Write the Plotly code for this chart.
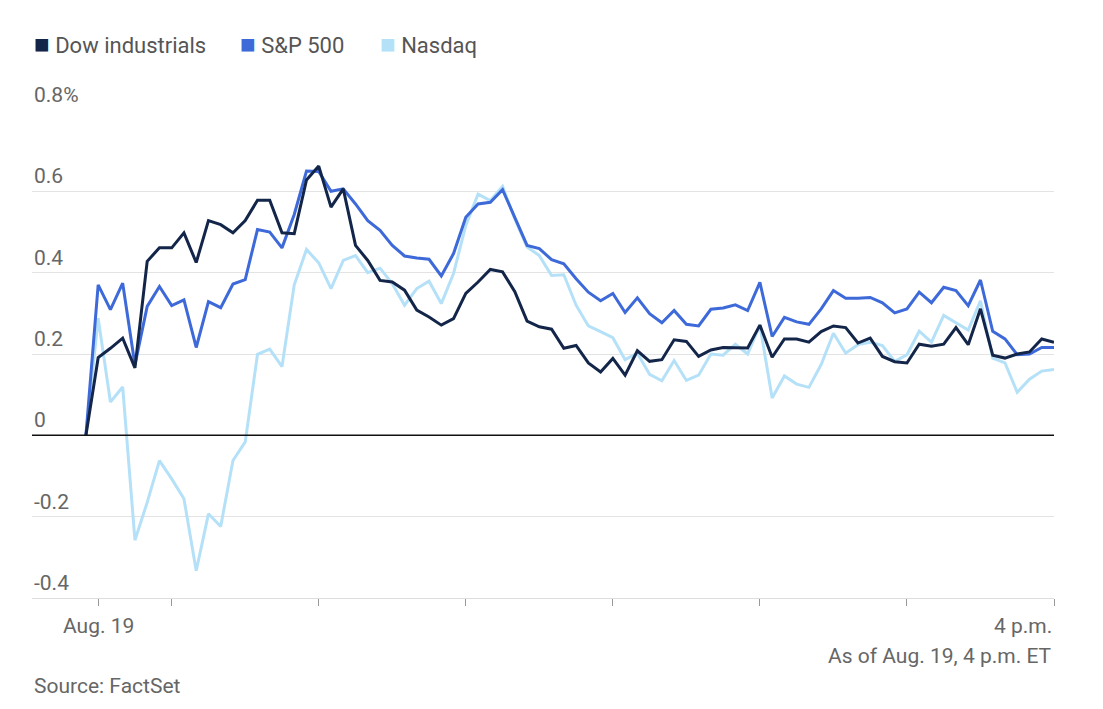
import plotly.graph_objects as go
import pandas as pd

dow = [0, 0.191, 0.214, 0.239, 0.166, 0.428, 0.461, 0.461, 0.498, 0.425, 0.528, 0.518, 0.498, 0.528, 0.578, 0.578, 0.498, 0.496, 0.628, 0.662, 0.561,
       0.606, 0.467, 0.430, 0.381, 0.377, 0.357, 0.308, 0.291, 0.271, 0.287, 0.349, 0.377, 0.408, 0.402, 0.353, 0.281, 0.267, 0.261, 0.214,
       0.221, 0.178, 0.156, 0.189, 0.148, 0.208, 0.182, 0.186, 0.235, 0.231, 0.194, 0.210, 0.216, 0.216, 0.215, 0.271, 0.192, 0.237, 0.237, 0.229,
       0.255, 0.269, 0.265, 0.227, 0.239, 0.194, 0.181, 0.178, 0.224, 0.219, 0.224, 0.265, 0.223, 0.311, 0.197, 0.190, 0.200, 0.205, 0.237, 0.229]
spx = [0, 0.370, 0.309, 0.374, 0.173, 0.317, 0.366, 0.319, 0.333, 0.216, 0.329, 0.314, 0.372, 0.383, 0.506, 0.500, 0.461, 0.543, 0.650, 0.649, 0.600,
       0.606, 0.569, 0.528, 0.504, 0.467, 0.441, 0.436, 0.433, 0.392, 0.447, 0.536, 0.569, 0.573, 0.604, 0.536, 0.467, 0.459, 0.432, 0.422,
       0.385, 0.352, 0.331, 0.349, 0.302, 0.338, 0.299, 0.277, 0.307, 0.273, 0.269, 0.310, 0.313, 0.321, 0.307, 0.376, 0.243, 0.290, 0.279, 0.273,
       0.311, 0.356, 0.337, 0.337, 0.339, 0.326, 0.301, 0.311, 0.352, 0.326, 0.364, 0.356, 0.319, 0.382, 0.256, 0.237, 0.198, 0.200, 0.216, 0.216]
ndx = [0, 0.288, 0.082, 0.119, -0.258, -0.165, -0.062, -0.107, -0.156, -0.333, -0.193, -0.224, -0.062, -0.016, 0.199, 0.212, 0.169, 0.370, 0.457, 0.424, 0.361,
       0.430, 0.442, 0.400, 0.411, 0.373, 0.320, 0.361, 0.379, 0.324, 0.398, 0.516, 0.593, 0.577, 0.612, 0.532, 0.463, 0.442, 0.393, 0.395,
       0.320, 0.269, 0.255, 0.240, 0.186, 0.202, 0.150, 0.134, 0.184, 0.135, 0.148, 0.200, 0.197, 0.224, 0.200, 0.271, 0.092, 0.146, 0.126, 0.118,
       0.174, 0.251, 0.202, 0.223, 0.229, 0.221, 0.182, 0.198, 0.256, 0.229, 0.295, 0.277, 0.259, 0.331, 0.190, 0.178, 0.106, 0.138, 0.158, 0.162]
times = pd.date_range("2024-08-19 09:25", "2024-08-19 16:00", freq="5min")

series_names = ["Dow industrials", "S&P 500", "Nasdaq"]
colors = ["#13264a", "#3d6ad8", "#b5e1f8"]
y_ticks = [0.8, 0.6, 0.4, 0.2, 0, -0.2, -0.4]
y_tick_labels = ["0.8%", "0.6", "0.4", "0.2", "0", "-0.2", "-0.4"]
x_ticks = pd.date_range("2024-08-19 10:00", "2024-08-19 15:00", freq="1h").tolist() + [pd.Timestamp("2024-08-19 09:30"), pd.Timestamp("2024-08-19 16:00")]

fig = go.Figure()
for name, vals, c in zip(series_names[::-1], [ndx, spx, dow], colors[::-1]):
    fig.add_trace(go.Scatter(x=times, y=vals, mode="lines", name=name,
                             line=dict(color=c, width=3), showlegend=False))

fig.add_shape(type="line", xref="paper", x0=0, x1=1, yref="y", y0=0, y1=0,
              line=dict(color="#111111", width=1.5))

fs = 21
ann = []
for v, t in zip(y_ticks, y_tick_labels):
    ann.append(dict(x=0, xref="paper", y=v, yref="y", text=t, showarrow=False,
                    xanchor="left", yanchor="bottom", yshift=1,
                    font=dict(size=fs, color="#666666")))
ann.append(dict(x=pd.Timestamp("2024-08-19 09:30"), xref="x", y=0, yref="paper", yshift=-14,
                text="Aug. 19", showarrow=False, xanchor="center", yanchor="top",
                font=dict(size=fs, color="#666666")))
ann.append(dict(x=1, xref="paper", y=0, yref="paper", yshift=-14, text="4 p.m.",
                showarrow=False, xanchor="right", yanchor="top", font=dict(size=fs, color="#666666")))
ann.append(dict(x=1, xref="paper", y=0, yref="paper", yshift=-44, text="As of Aug. 19, 4 p.m. ET",
                showarrow=False, xanchor="right", yanchor="top", font=dict(size=fs, color="#666666")))
ann.append(dict(x=0, xref="paper", y=0, yref="paper", yshift=-74, text="Source: FactSet",
                showarrow=False, xanchor="left", yanchor="top", font=dict(size=fs, color="#666666")))
leg_x = [32, 238, 378]
for lx, name, c in zip(leg_x, series_names, colors):
    ann.append(dict(x=0, xref="paper", xshift=lx - 32, y=1, yref="paper", yshift=66,
                    text=f"<span style='color:{c};font-size:26px'>■</span> {name}", showarrow=False,
                    xanchor="left", yanchor="middle", font=dict(size=22, color="#555555")))

fig.update_layout(
    width=1103, height=709, margin=dict(l=24, r=57, t=102, b=119),
    paper_bgcolor="white", plot_bgcolor="white",
    font=dict(family="Roboto", color="#666666"),
    annotations=ann,
    xaxis=dict(range=[pd.Timestamp("2024-08-19 09:03"), pd.Timestamp("2024-08-19 16:00")],
               tickvals=x_ticks, showticklabels=False, ticks="outside", ticklen=7,
               tickcolor="#999999", showgrid=False, zeroline=False,
               showline=True, linecolor="#dddddd", linewidth=1),
    yaxis=dict(range=[-0.4, 0.8], tickvals=y_ticks, showticklabels=False,
               showgrid=True, gridcolor="#e3e3e3", gridwidth=1, zeroline=False),
)
fig.write_html("out.html")
